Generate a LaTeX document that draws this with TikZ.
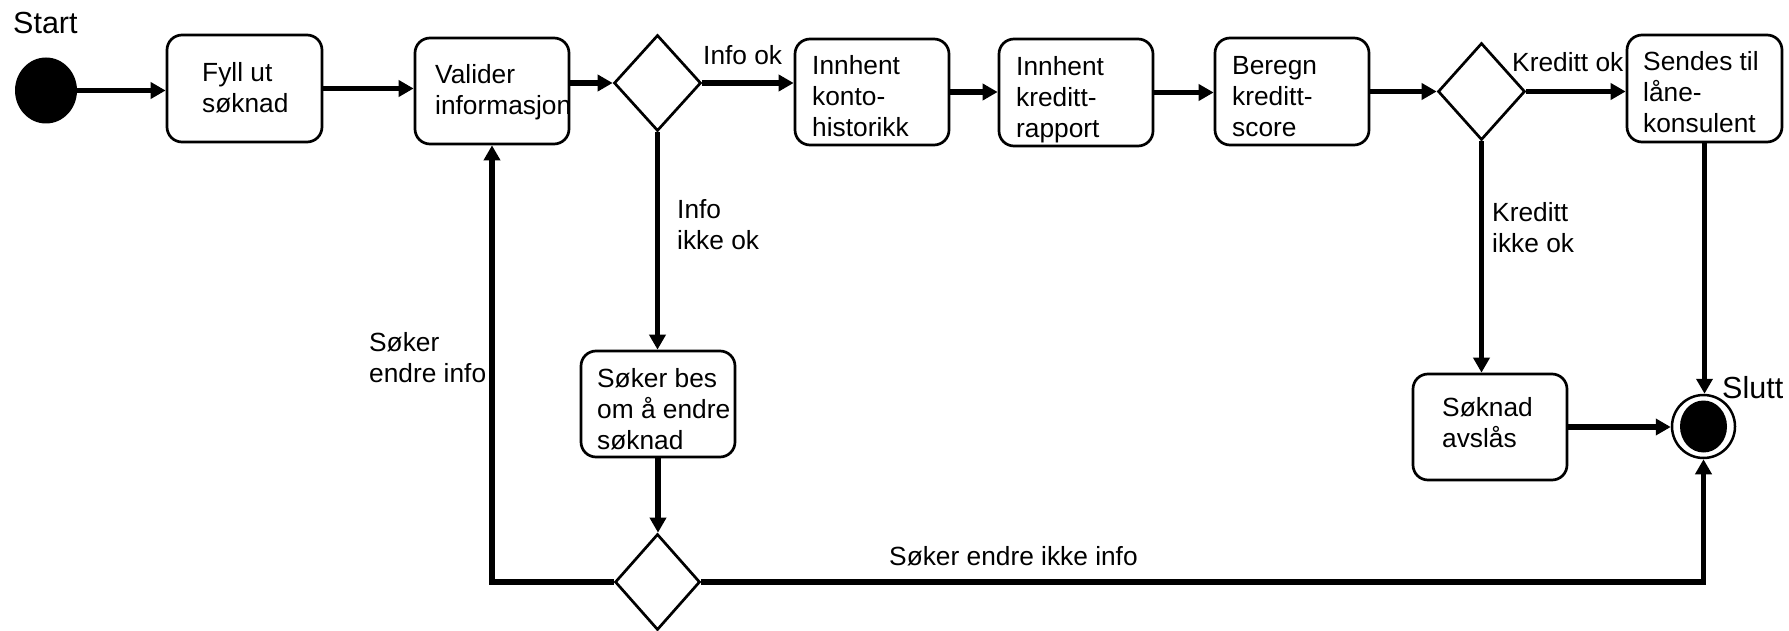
\documentclass[tikz,border=0pt]{standalone}
\usepackage{fontspec}
\setmainfont{Liberation Sans}
\usetikzlibrary{shapes.geometric,arrows.meta}
\tikzset{
  every node/.style={inner sep=0pt},
  actbox/.style={draw, line width=2.7pt, rounded corners=15pt, minimum width=154pt, minimum height=106pt},
  choice/.style={draw, diamond, line width=2.7pt, minimum width=87pt, minimum height=96pt},
  flow/.style={line width=5.5pt, -{Triangle[length=15pt,width=16pt]}},
  % multi-line texts are placed by the baseline of their last line
  txt/.style={anchor=base west, align=left, font=\fontsize{26.3}{31}\selectfont},
  bigtxt/.style={anchor=base west, font=\fontsize{30.5}{36}\selectfont},
}
\begin{document}
\begin{tikzpicture}[x=1pt, y=-1pt]
\useasboundingbox (0,0) rectangle (1789,631);

% start and end states
\node[ellipse, fill, minimum width=62pt, minimum height=66pt] (start) at (46,90.5) {};
\node[bigtxt] (startlbl) at (13,34) {Start};
\node[draw, circle, line width=2.5pt, minimum size=63pt] (end) at (1703.5,426.5) {};
\fill (end.center) ellipse [x radius=23.5pt, y radius=26pt];
\node[bigtxt] (endlbl) at (1722,398) {Slutt};

% activities
\node[actbox, minimum width=155pt, minimum height=107pt] (b1) at (244.5,88.5) {};
\node[actbox] (b2) at (492,91) {};
\node[actbox] (b3) at (872,92) {};
\node[actbox, minimum height=107pt] (b4) at (1076,92.5) {};
\node[actbox, minimum height=107pt] (b5) at (1292,91.5) {};
\node[actbox, minimum width=155pt, minimum height=107pt] (b6) at (1704.5,88.5) {};
\node[actbox] (b7) at (658,404) {};
\node[actbox] (b8) at (1490,427) {};

% decisions
\node[choice] (d1) at (657.5,83) {};
\node[choice, minimum height=97pt] (d2) at (1481.5,91.5) {};
\node[choice, minimum width=85pt] (d3) at (657.5,582) {};

% activity texts
\node[txt] (t1) at (202,113) {Fyll ut\\søknad};
\node[txt] (t2) at (435,115) {Valider\\informasjon};
\node[txt] (t3) at (812,137) {Innhent\\konto-\\historikk};
\node[txt] (t4) at (1016,138) {Innhent\\kreditt-\\rapport};
\node[txt] (t5) at (1232,137) {Beregn\\kreditt-\\score};
\node[txt] (t6) at (1643,133) {Sendes til\\låne-\\konsulent};
\node[txt] (t7) at (597,449) {Søker bes\\om å endre\\søknad};
\node[txt] (t8) at (1442,447) {Søknad\\avslås};

% guard labels
\node[txt] (g1) at (703,65) {Info ok};
\node[txt] (g2) at (1512,72) {Kreditt ok};
\node[txt] (g3) at (677,250) {Info\\ikke ok};
\node[txt] (g4) at (1492,253) {Kreditt\\ikke ok};
\node[txt] (g5) at (369,382) {Søker\\endre info};
\node[txt] (g6) at (889,565) {Søker endre ikke info};

% transitions
\draw[flow] (start.east) -- (start.east -| b1.west);
\draw[flow] (b1.east) -- (b1.east -| b2.west);
\draw[flow] (d1.west -| b2.east) -- (d1.west);
\draw[flow] (d1.east) -- (d1.east -| b3.west);
\draw[flow] (b3.east) -- (b3.east -| b4.west);
\draw[flow] (b4.east) -- (b4.east -| b5.west);
\draw[flow] (b5.east) -- (b5.east -| d2.west);
\draw[flow] (d2.east) -- (d2.east -| b6.west);
\draw[flow] (d1.south) -- (d1.south |- b7.north);
\draw[flow] (b7.south) -- (b7.south |- d3.north);
\draw[flow] (d3.west) -- (d3.west -| b2.south) -- (b2.south);
\draw[flow] (d3.east) -- (d3.east -| end.south) -- (end.south);
\draw[flow] (d2.south) -- (d2.south |- b8.north);
\draw[flow] (b6.south) -- (b6.south |- end.north);
\draw[flow] (b8.east) -- (b8.east -| end.west);
\end{tikzpicture}
\end{document}
